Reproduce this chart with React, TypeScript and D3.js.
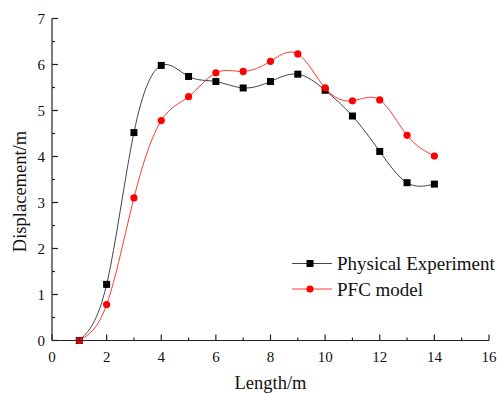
import React from 'react';
import * as d3 from 'd3';

const lengths = [1, 2, 3, 4, 5, 6, 7, 8, 9, 10, 11, 12, 13, 14];
const physical = [0, 1.22, 4.52, 5.98, 5.74, 5.63, 5.49, 5.63, 5.79, 5.44, 4.88, 4.11, 3.43, 3.4];
const pfc = [0, 0.78, 3.1, 4.78, 5.3, 5.82, 5.85, 6.07, 6.23, 5.49, 5.21, 5.23, 4.46, 4.01];
const xTicks = [0, 2, 4, 6, 8, 10, 12, 14, 16];
const yTicks = [0, 1, 2, 3, 4, 5, 6, 7];
const xMinor = d3.range(1, 16, 2);
const yMinor = d3.range(0.5, 7, 1);

const font = '"Liberation Serif", "Times New Roman", serif';

export default function App() {
  const x = d3.scaleLinear().domain([0, 16]).range([52, 489]);
  const y = d3.scaleLinear().domain([0, 7]).range([340.5, 18.5]);

  const line = d3.line<number>()
    .x((d, i) => x(lengths[i]))
    .y(d => y(d))
    .curve(d3.curveNatural);

  const x0 = x(0), y0 = y(0);

  return (
    <svg width={500} height={393} style={{ position: 'absolute', left: 0, top: 0, background: '#fff' }}>
      <path d={line(physical) || ''} fill="none" stroke="#444" strokeWidth={1} />
      {physical.map((v, i) => (
        <rect key={'p' + i} x={x(lengths[i]) - 3.5} y={y(v) - 3.5} width={7} height={7} fill="#000" />
      ))}
      <path d={line(pfc) || ''} fill="none" stroke="#ff2020" strokeWidth={0.9} />
      {pfc.map((v, i) => (
        <circle key={'c' + i} cx={x(lengths[i])} cy={y(v)} r={3.6} fill="#ff0000" />
      ))}

      {/* axes */}
      <line x1={x0} y1={y(7)} x2={x0} y2={y0} stroke="#222" strokeWidth={1.2} />
      <line x1={x0} y1={y0} x2={x(16)} y2={y0} stroke="#222" strokeWidth={1.2} />
      {yTicks.map(t => (
        <g key={'yt' + t}>
          <line x1={x0} x2={x0 + 6} y1={y(t)} y2={y(t)} stroke="#222" strokeWidth={1.2} />
          <text x={45} y={y(t) + 5} textAnchor="end" fontFamily={font} fontSize={15} fill="#111">{t}</text>
        </g>
      ))}
      {yMinor.map(t => (
        <line key={'ym' + t} x1={x0} x2={x0 + 3} y1={y(t)} y2={y(t)} stroke="#222" strokeWidth={1.2} />
      ))}
      {xTicks.map(t => (
        <g key={'xt' + t}>
          <line x1={x(t)} x2={x(t)} y1={y0} y2={y0 - 6} stroke="#222" strokeWidth={1.2} />
          <text x={x(t)} y={362} textAnchor="middle" fontFamily={font} fontSize={15} fill="#111">{t}</text>
        </g>
      ))}
      {xMinor.map(t => (
        <line key={'xm' + t} x1={x(t)} x2={x(t)} y1={y0} y2={y0 - 3} stroke="#222" strokeWidth={1.2} />
      ))}

      <text x={x(8)} y={389} textAnchor="middle" fontFamily={font} fontSize={18.5} fill="#111">Length/m</text>
      <text transform="translate(26,191.5) rotate(-90)" textAnchor="middle" fontFamily={font} fontSize={18.5} fill="#111">Displacement/m</text>

      {/* legend */}
      <line x1={292} x2={332} y1={263.5} y2={263.5} stroke="#444" strokeWidth={1} />
      <rect x={310 - 3.5} y={263.5 - 3.5} width={7} height={7} fill="#000" />
      <text x={337} y={270} fontFamily={font} fontSize={19} fill="#111">Physical Experiment</text>
      <line x1={292} x2={332} y1={289} y2={289} stroke="#ff2020" strokeWidth={0.9} />
      <circle cx={310} cy={289} r={3.6} fill="#ff0000" />
      <text x={337} y={295.5} fontFamily={font} fontSize={19} fill="#111">PFC model</text>
    </svg>
  );
}
